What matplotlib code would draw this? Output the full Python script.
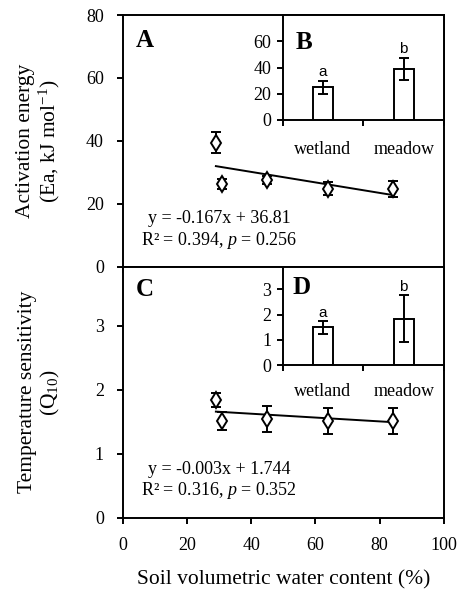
import matplotlib
matplotlib.use("Agg")
import matplotlib.pyplot as plt
import numpy as np

plt.rcParams['font.family'] = ['Liberation Serif', 'DejaVu Serif']
plt.rcParams['mathtext.fontset'] = 'custom'
plt.rcParams['mathtext.rm'] = 'Liberation Serif'
plt.rcParams['mathtext.it'] = 'Liberation Serif:italic'

# soil water content (%) for the five sites
swc = [29, 31, 45, 64, 84]

# activation energy (Ea, kJ/mol) with error
ea = [39.4, 26.4, 27.5, 24.8, 24.8]
ea_err = [3.4, 1.6, 1.3, 2.0, 2.5]

# Q10 with error
q10 = [1.84, 1.51, 1.54, 1.51, 1.51]
q10_err = [0.11, 0.14, 0.20, 0.21, 0.20]

# regression fits
ea_slope, ea_icpt = -0.167, 36.81
q10_slope, q10_icpt = -0.003, 1.744

# inset bars
habitats = ['wetland', 'meadow']
ea_bar = [25.0, 39.0]
ea_bar_err = [5.0, 8.5]
q10_bar = [1.49, 1.83]
q10_bar_err = [0.25, 0.93]
sig_letters = ['a', 'b']

W, H = 463, 589
fig = plt.figure(figsize=(W / 100, H / 100), dpi=100)

def box(l, t, r, b):
    return [l / W, 1 - b / H, (r - l) / W, (b - t) / H]

axA = fig.add_axes(box(122.7, 15, 444, 266.7))
axC = fig.add_axes(box(122.7, 266.7, 444, 517.7))
axB = fig.add_axes(box(282.7, 15, 444, 120))
axD = fig.add_axes(box(282.7, 266.7, 444, 365))

fs = 13
lfs = 15.5
lw = 1.4

def style(ax, pad):
    for s in ax.spines.values():
        s.set_linewidth(lw)
    ax.tick_params(direction='out', length=4, width=lw, labelsize=fs, pad=pad)

def scatter_panel(ax, y, yerr, slope, icpt):
    ax.errorbar(swc, y, yerr=yerr, fmt='d', mfc='white', mec='black', mew=1.4,
                ms=8, ecolor='black', elinewidth=1.4, capsize=3.5, capthick=1.4, zorder=3)
    xs = np.array([min(swc), max(swc)])
    ax.plot(xs, slope * xs + icpt, color='black', lw=1.4, zorder=2)
    ax.set_xlim(0, 100)
    ax.set_xticks(np.arange(0, 101, 20))
    style(ax, 9.5)
    ax.tick_params(axis='x', pad=10)

scatter_panel(axA, ea, ea_err, ea_slope, ea_icpt)
axA.set_ylim(0, 80)
axA.set_yticks([0, 20, 40, 60, 80])
axA.tick_params(labelbottom=False)
axA.set_ylabel('Activation energy\n(Ea, kJ mol$^{-1}$)', fontsize=lfs, linespacing=1.1)
axA.yaxis.set_label_coords(-0.19, 0.5)
axA.text(0.30, 0.19, 'y = -0.167x + 36.81', transform=axA.transAxes, fontsize=fs, ha='center', va='center')
axA.text(0.30, 0.106, 'R² = 0.394, $p$ = 0.256', transform=axA.transAxes, fontsize=fs, ha='center', va='center')
axA.text(0.04, 0.9, 'A', transform=axA.transAxes, fontsize=fs + 5, fontweight='bold', va='center')

scatter_panel(axC, q10, q10_err, q10_slope, q10_icpt)
axC.set_ylim(0, 3.92)
axC.set_yticks([0, 1, 2, 3])
axC.set_ylabel('Temperature sensitivity\n(Q$_{10}$)', fontsize=lfs, linespacing=1.1)
axC.yaxis.set_label_coords(-0.19, 0.5)
axC.set_xlabel('Soil volumetric water content (%)', fontsize=lfs)
axC.xaxis.set_label_coords(0.5, -0.21)
axC.text(0.30, 0.193, 'y = -0.003x + 1.744', transform=axC.transAxes, fontsize=fs, ha='center', va='center')
axC.text(0.30, 0.11, 'R² = 0.316, $p$ = 0.352', transform=axC.transAxes, fontsize=fs, ha='center', va='center')
axC.text(0.04, 0.91, 'C', transform=axC.transAxes, fontsize=fs + 5, fontweight='bold', va='center')

def bar_inset(ax, vals, errs, top, ticks, letter, dy, lab_y, let_xy):
    pos = np.arange(len(habitats)) + 0.5
    ax.bar(pos, vals, width=0.25, color='white', edgecolor='black', lw=lw, zorder=2)
    ax.errorbar(pos, vals, yerr=errs, fmt='none', ecolor='black', elinewidth=1.4,
                capsize=3.5, capthick=1.4, zorder=3)
    for p, v, e, s in zip(pos, vals, errs, sig_letters):
        ax.text(p, v + e + dy, s, ha='center', va='bottom', fontsize=fs - 2,
                family=['Liberation Sans', 'DejaVu Sans'])
    ax.set_xlim(0, 2)
    ax.set_ylim(0, top)
    ax.set_xticks([0, 1, 2])
    ax.set_xticklabels([])
    ax.set_yticks(ticks)
    style(ax, 4)
    for p, h in zip(pos, habitats):
        ax.text(p, lab_y, h, transform=ax.get_xaxis_transform(), ha='center', va='center', fontsize=fs)
    ax.text(let_xy[0], let_xy[1], letter, transform=ax.transAxes, fontsize=fs + 5,
            fontweight='bold', va='center')

bar_inset(axB, ea_bar, ea_bar_err, 80, [0, 20, 40, 60], 'B', 1.5, -0.285, (0.08, 0.74))
bar_inset(axD, q10_bar, q10_bar_err, 3.9, [0, 1, 2, 3], 'D', 0.05, -0.265, (0.06, 0.79))

fig.savefig('out.png', dpi=100)
